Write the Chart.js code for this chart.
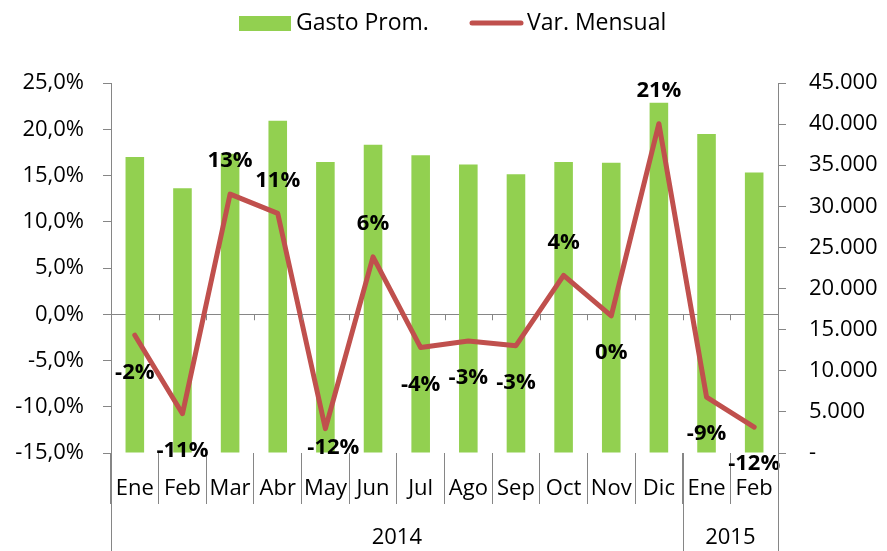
<!DOCTYPE html>
<html><head><meta charset="utf-8">
<script src="https://cdn.jsdelivr.net/npm/chart.js@4/dist/chart.umd.min.js"></script>
<style>html,body{margin:0;padding:0;background:#fff}#wrap{width:887px;height:551px;position:relative}</style>
</head><body><div id="wrap"><canvas id="c" width="887" height="551"></canvas></div>
<script>
const months = ['Ene','Feb','Mar','Abr','May','Jun','Jul','Ago','Sep','Oct','Nov','Dic','Ene','Feb'];
const years = ['2014','2015'];
const yearSpans = [12, 2];
const gastoProm = [36000, 32200, 36400, 40400, 35400, 37500, 36200, 35100, 33900, 35400, 35300, 42600, 38800, 34100];
const varMensual = [-2.27, -10.75, 12.99, 10.9, -12.37, 6.2, -3.6, -2.9, -3.4, 4.2, -0.18, 20.6, -8.95, -12.2];
const leftTickLabels = ['-15,0%','-10,0%','-5,0%','0,0%','5,0%','10,0%','15,0%','20,0%','25,0%'];
const rightTickLabels = ['-','5.000','10.000','15.000','20.000','25.000','30.000','35.000','40.000','45.000'];

const GRAY = '#868686';
const GREEN = '#92D050';
const RED = '#C0504D';
const FONT = "'Open Sans', sans-serif";
const TICK_SIZE = 22;

const extrasPlugin = {
  id: 'extras',
  afterDatasetsDraw(chart) {
    const ctx = chart.ctx;
    const x = chart.scales.x, yl = chart.scales.y;
    const n = months.length;
    const cw = (x.right - x.left) / n;
    const y0 = yl.getPixelForValue(0);
    ctx.save();
    ctx.strokeStyle = GRAY; ctx.lineWidth = 1;
    for (let i = 0; i <= n; i++) {
      const px = Math.round(x.left + i * cw) + 0.5;
      ctx.beginPath(); ctx.moveTo(px, y0); ctx.lineTo(px, y0 + 6); ctx.stroke();
    }
    const meta = chart.getDatasetMeta(1);
    ctx.font = "bold 22px " + FONT;
    ctx.fillStyle = '#000';
    ctx.textAlign = 'center'; ctx.textBaseline = 'middle';
    meta.data.forEach((pt, i) => {
      const v = varMensual[i];
      let txt = Math.round(v) + '%';
      if (txt === '-0%') txt = '0%';
      let ly = v >= 0 ? pt.y - 33 : pt.y + 37;
      let lx = pt.x;
      if (i === 4) { ly = pt.y + 19; lx = pt.x + 8; }
      ctx.fillText(txt, lx, ly);
    });
    ctx.restore();
  },
  afterDraw(chart) {
    const ctx = chart.ctx;
    const x = chart.scales.x;
    const n = months.length;
    const cw = (x.right - x.left) / n;
    ctx.save();
    ctx.strokeStyle = GRAY; ctx.lineWidth = 1;
    let idx = 0;
    const bounds = [0];
    yearSpans.forEach(s => { idx += s; bounds.push(idx); });
    bounds.forEach(b => {
      const px = Math.round(x.left + b * cw) + 0.5;
      ctx.beginPath(); ctx.moveTo(px, x.top); ctx.lineTo(px, chart.height); ctx.stroke();
    });
    ctx.font = TICK_SIZE + "px " + FONT;
    ctx.fillStyle = '#000';
    ctx.textAlign = 'center'; ctx.textBaseline = 'middle';
    years.forEach((yr, i) => {
      const cx = x.left + (bounds[i] + bounds[i + 1]) / 2 * cw;
      ctx.fillText(yr, cx, 538);
    });
    const labels = chart.data.datasets.map(d => d.label);
    ctx.textAlign = 'left';
    ctx.font = "23px " + FONT;
    ctx.fillStyle = GREEN;
    ctx.fillRect(239, 16, 52, 15);
    ctx.fillStyle = '#000';
    ctx.fillText(labels[0], 296, 23);
    ctx.strokeStyle = RED; ctx.lineWidth = 5; ctx.lineCap = 'round';
    ctx.beginPath(); ctx.moveTo(472, 23); ctx.lineTo(521, 23); ctx.stroke();
    ctx.fillStyle = '#000';
    ctx.fillText(labels[1], 527, 23);
    ctx.restore();
  }
};

new Chart(document.getElementById('c'), {
  data: {
    labels: months,
    datasets: [
      { type: 'bar', label: 'Gasto Prom.', data: gastoProm, yAxisID: 'y1', backgroundColor: GREEN,
        borderWidth: 0, barPercentage: 0.39, categoryPercentage: 1, order: 2 },
      { type: 'line', label: 'Var. Mensual', data: varMensual, yAxisID: 'y', borderColor: RED,
        backgroundColor: RED, borderWidth: 5, pointRadius: 0, tension: 0, borderJoinStyle: 'round',
        borderCapStyle: 'round', order: 1 }
    ]
  },
  options: {
    responsive: false, animation: false, devicePixelRatio: 1,
    layout: { padding: { top: 83, left: 0, right: 0, bottom: 0 } },
    plugins: { legend: { display: false }, tooltip: { enabled: false } },
    scales: {
      x: {
        type: 'category', offset: true,
        grid: { offset: true, drawOnChartArea: false, tickLength: 51, color: GRAY, tickColor: GRAY, lineWidth: 1 },
        border: { display: false },
        ticks: { padding: -28, font: { family: FONT, size: TICK_SIZE }, color: '#000', maxRotation: 0, autoSkip: false },
        afterFit: s => { s.height = 98; }
      },
      y: {
        type: 'linear', position: 'left', min: -15, max: 25,
        grid: { drawOnChartArea: true, tickLength: 8, tickColor: GRAY,
                color: c => (c.tick && c.tick.value === 0) ? GRAY : 'rgba(0,0,0,0)' },
        border: { display: true, color: GRAY },
        ticks: { stepSize: 5, padding: 19, font: { family: FONT, size: TICK_SIZE }, color: '#000',
                 callback: v => leftTickLabels[Math.round((v + 15) / 5)] },
        afterFit: s => { s.width = 111; }
      },
      y1: {
        type: 'linear', position: 'right', min: 0, max: 45000,
        grid: { drawOnChartArea: false, tickLength: 8, tickColor: GRAY, color: GRAY },
        border: { display: true, color: GRAY },
        ticks: { stepSize: 5000, padding: 23, font: { family: FONT, size: TICK_SIZE }, color: '#000',
                 callback: v => rightTickLabels[Math.round(v / 5000)] },
        afterFit: s => { s.width = 109; }
      }
    }
  },
  plugins: [extrasPlugin]
});
</script></body></html>
